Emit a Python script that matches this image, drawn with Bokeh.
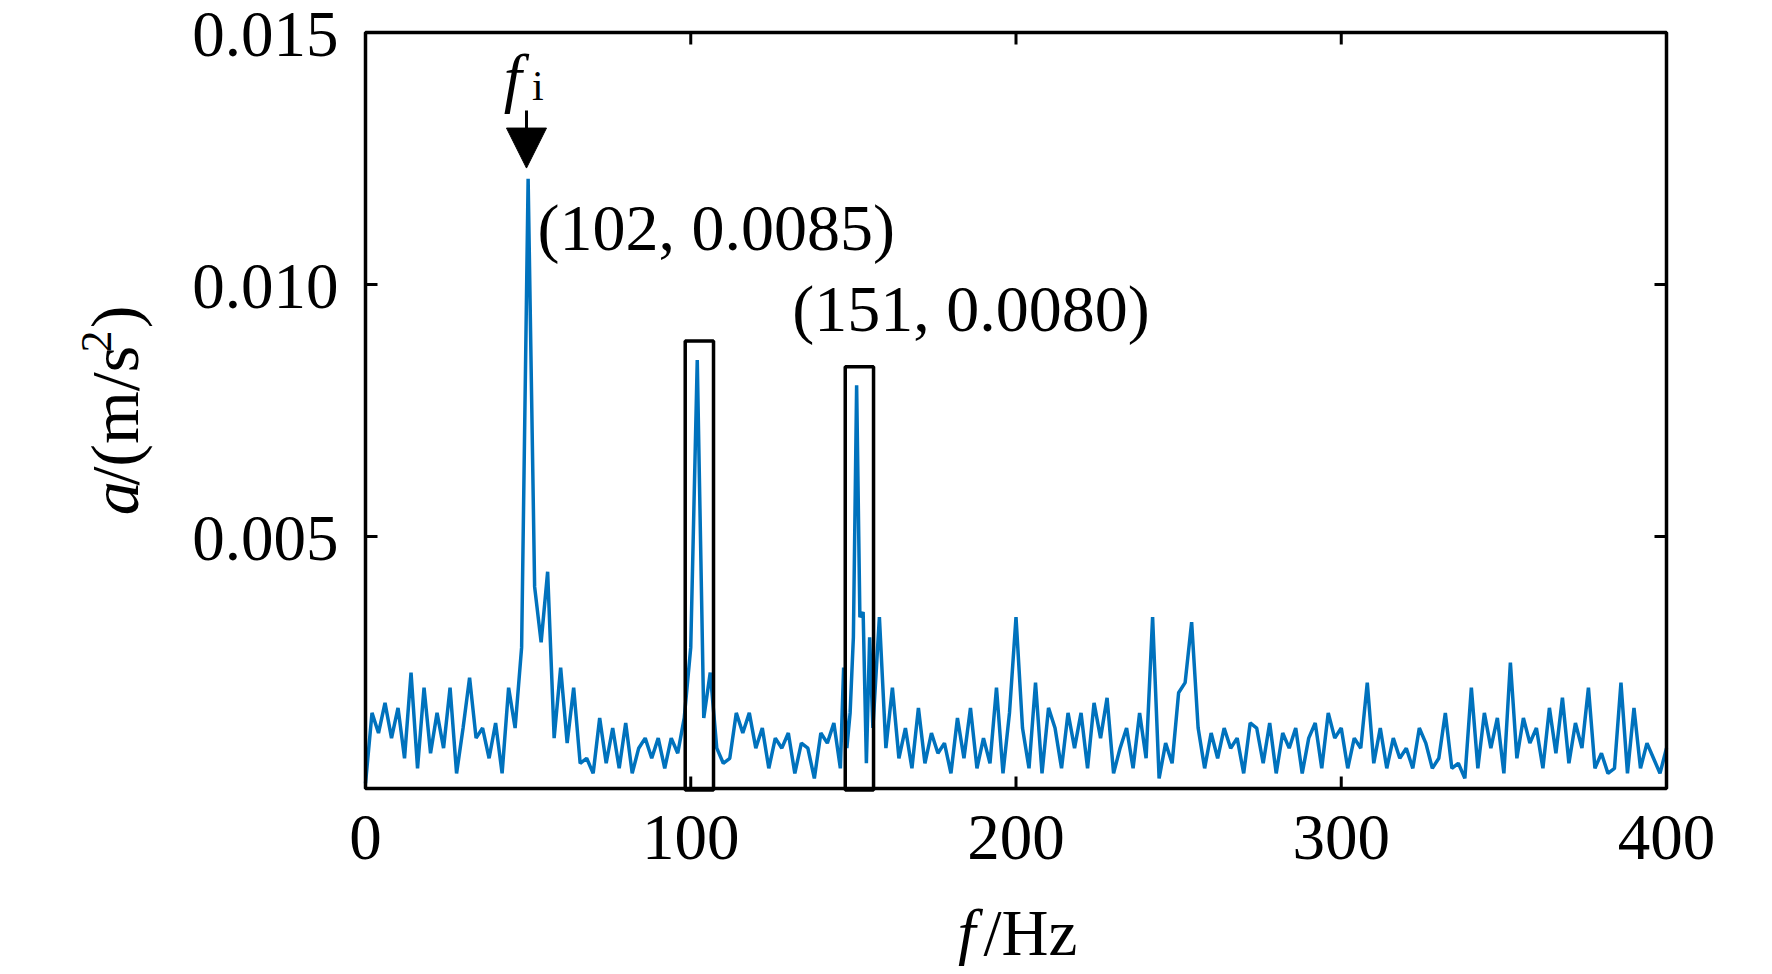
import math
from bokeh.plotting import figure
from bokeh.models import Range1d, Label, Arrow, NormalHead
from bokeh.core.properties import value
from bokeh.embed import file_html
from bokeh.resources import INLINE

# ---- data ----
freq_a = list(range(0, 146, 2))
amp_a = [0.0001,0.0015,0.0011,0.0017,0.0010,0.0016,0.0006,0.0023,0.0004,0.0020,
         0.0007,0.0015,0.0008,0.0020,0.0003,0.0012,0.0022,0.0010,0.0012,0.0006,
         0.0013,0.0003,0.0020,0.0012,0.0028,0.0121,0.0040,0.0029,0.0043,0.0010,
         0.0024,0.0009,0.0020,0.0005,0.0006,0.0003,0.0014,0.0005,0.0012,0.0004,
         0.0013,0.0003,0.0008,0.0010,0.0006,0.0010,0.0004,0.0010,0.0007,0.0014,
         0.0028,0.0085,0.0014,0.0023,0.0008,0.0005,0.0006,0.0015,0.0011,0.0015,
         0.0008,0.0012,0.0004,0.0010,0.0008,0.0011,0.0003,0.0009,0.0008,0.0002,
         0.0011,0.0009,0.0013]
freq_b = list(range(146, 157))
amp_b = [0.0004,0.0024,0.0008,0.0015,0.0030,0.0080,0.0034,0.0035,0.0005,0.0030,0.0012]
freq_c = list(range(158, 401, 2))
amp_c = [0.0034,0.0008,0.0020,0.0006,0.0012,0.0004,0.0016,0.0005,0.0011,0.0007,
         0.0009,0.0003,0.0014,0.0006,0.0016,0.0004,0.0010,0.0005,0.0020,0.0003,
         0.0015,0.0034,0.0012,0.0004,0.0021,0.0003,0.0016,0.0012,0.0004,0.0015,
         0.0008,0.0015,0.0004,0.0017,0.0010,0.0018,0.0003,0.0008,0.0012,0.0004,
         0.0015,0.0006,0.0034,0.0002,0.0009,0.0005,0.0019,0.0021,0.0033,0.0012,
         0.0004,0.0011,0.0006,0.0012,0.0008,0.0010,0.0003,0.0013,0.0012,0.0005,
         0.0013,0.0003,0.0011,0.0008,0.0012,0.0003,0.0010,0.0013,0.0004,0.0015,
         0.0010,0.0012,0.0004,0.0010,0.0008,0.0021,0.0005,0.0012,0.0004,0.0010,
         0.0006,0.0008,0.0004,0.0012,0.0009,0.0004,0.0006,0.0015,0.0004,0.0005,
         0.0002,0.0020,0.0004,0.0015,0.0008,0.0014,0.0003,0.0025,0.0006,0.0014,
         0.0009,0.0012,0.0004,0.0016,0.0007,0.0018,0.0005,0.0013,0.0008,0.0020,
         0.0004,0.0007,0.0003,0.0004,0.0021,0.0003,0.0016,0.0004,0.0009,0.0006,
         0.0003,0.0008]
assert len(freq_a) == len(amp_a) and len(freq_b) == len(amp_b) and len(freq_c) == len(amp_c)
freq = freq_a + freq_b + freq_c
amp = amp_a + amp_b + amp_c

X_MIN, X_MAX = 0, 400
Y_MIN, Y_MAX = 0.0, 0.015
x_ticks = [0, 100, 200, 300, 400]
x_tick_labels = ["0", "100", "200", "300", "400"]
y_ticks = [0.005, 0.010, 0.015]
y_tick_labels = ["0.005", "0.010", "0.015"]
peak_labels = ["(102, 0.0085)", "(151, 0.0080)"]
box_left = [98.3, 147.5]
box_right = [107.0, 156.2]
box_top = [0.00888, 0.00837]

FONT = "Liberation Serif"
FS = "65px"

W, H = 1760, 966
FL, FR, FT, FB = 365, 1666, 32, 788       # frame in canvas px
sx = (FR - FL) / (X_MAX - X_MIN)           # px per Hz
sy = (FB - FT) / (Y_MAX - Y_MIN)           # px per unit

p = figure(width=W, height=H, output_backend="svg", toolbar_location=None,
           x_range=Range1d(X_MIN - FL / sx, X_MAX + (W - FR) / sx),
           y_range=Range1d(Y_MIN - (H - FB) / sy, Y_MAX + FT / sy),
           min_border=0)
p.axis.visible = False
p.grid.visible = False
p.outline_line_color = None

p.line(freq, amp, line_color="#0072BD", line_width=3.5)

# frame
p.quad(left=[X_MIN], right=[X_MAX], bottom=[Y_MIN], top=[Y_MAX],
       fill_color=None, line_color="black", line_width=3.5)
# ticks (inward, all four sides)
tl_x = 12 / sy
tl_y = 12 / sx
p.segment(x0=x_ticks, x1=x_ticks, y0=[Y_MIN] * 5, y1=[Y_MIN + tl_x] * 5, line_color="black", line_width=3)
p.segment(x0=x_ticks, x1=x_ticks, y0=[Y_MAX] * 5, y1=[Y_MAX - tl_x] * 5, line_color="black", line_width=3)
p.segment(x0=[X_MIN] * 3, x1=[X_MIN + tl_y] * 3, y0=y_ticks, y1=y_ticks, line_color="black", line_width=3)
p.segment(x0=[X_MAX] * 3, x1=[X_MAX - tl_y] * 3, y0=y_ticks, y1=y_ticks, line_color="black", line_width=3)

# tick labels
p.text(x=x_ticks, y=[Y_MIN - 49 / sy] * 5, text=x_tick_labels, text_font=value(FONT),
       text_font_size=FS, text_align="center", text_baseline="alphabetic", text_color="black")
p.text(x=[X_MIN - 27 / sx] * 3, y=[t - 2 / sy for t in y_ticks], text=y_tick_labels,
       text_font=value(FONT), text_font_size=FS, text_align="right",
       text_baseline="alphabetic", text_color="black")

# outlined boxes
p.quad(left=box_left, right=box_right, bottom=[-0.00003, -0.00003], top=box_top,
       fill_color=None, line_color="black", line_width=3.5)

def lab(x, y, t, size=FS, style="normal", angle=0.0, base="alphabetic", align="left"):
    p.add_layout(Label(x=x, y=y, text=t, text_font=FONT, text_font_size=size,
                       text_font_style=style, angle=angle, text_baseline=base,
                       text_align=align, text_color="black"))

lab(52.9, 0.01114, peak_labels[0], size="66px", base="middle")
lab(131.2, 0.00952, peak_labels[1], size="66px", base="middle")

lab(42.5, 0.01409, "f", style="italic")
lab(51.2, 0.01394, "i", size="42px")
p.add_layout(Arrow(x_start=49.5, y_start=0.01345, x_end=49.5, y_end=0.01231,
                   line_width=3, line_color="black",
                   end=NormalHead(size=40, fill_color="black", line_color="black")))

# x axis label
lab(182.0, -0.00286, "f", style="italic")
lab(190.0, -0.00286, "/Hz")

# y axis label (rotated)
ax_x = -77.1
ang = math.pi / 2
lab(ax_x, 0.00542, "a", size="68px", style="italic", angle=ang)
lab(ax_x, 0.00601, "/(m/s", size="68px", angle=ang)
lab(ax_x - 5.5, 0.00865, "2", size="44px", angle=ang)
lab(ax_x, 0.00913, ")", size="68px", angle=ang)

open("out.html", "w").write(file_html(p, INLINE))
